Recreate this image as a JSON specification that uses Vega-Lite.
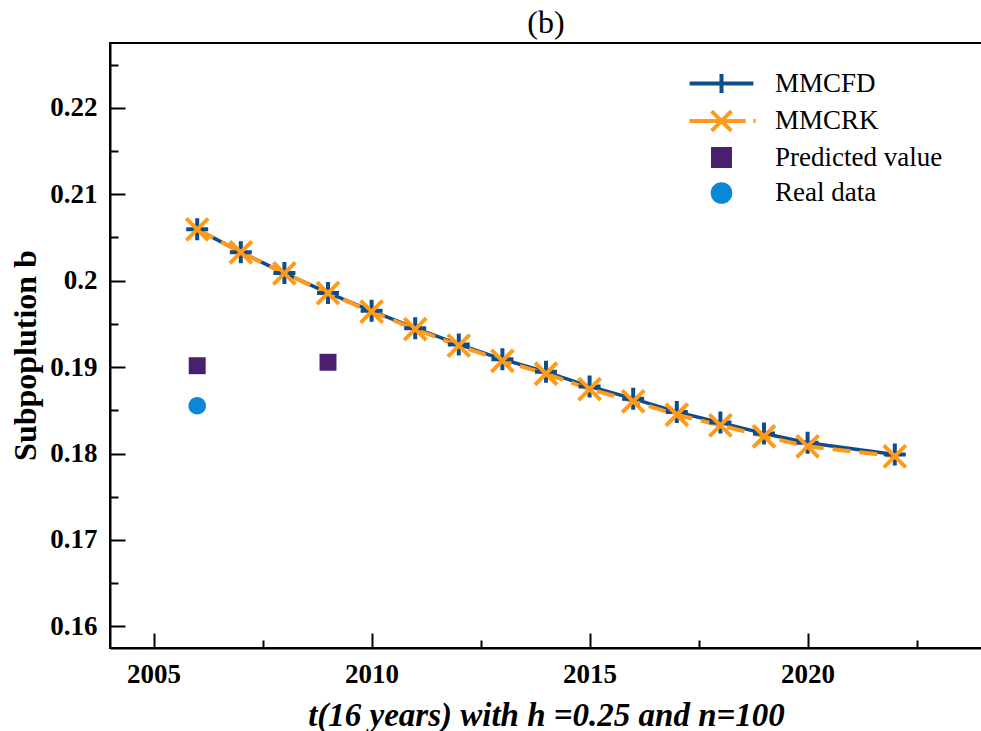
{
  "$schema": "https://vega.github.io/schema/vega-lite/v6.json",
  "width": 872,
  "height": 605,
  "autosize": {"type": "none"},
  "padding": {"left": 110, "top": 43, "right": 0, "bottom": 83},
  "background": "white",
  "config": {
    "font": "Liberation Serif",
    "view": {"stroke": "black", "strokeWidth": 2},
    "axis": {
      "grid": false,
      "domainColor": "black",
      "domainWidth": 2,
      "tickColor": "black",
      "tickWidth": 2,
      "labelFont": "Liberation Serif",
      "labelFontWeight": "bold",
      "labelFontSize": 27,
      "labelColor": "black",
      "titleFont": "Liberation Serif",
      "titleFontWeight": "bold",
      "titleColor": "black",
      "labelOverlap": false,
      "labelFlush": false
    },
    "legend": {
      "orient": "none",
      "legendX": 598,
      "legendY": 27,
      "title": null,
      "padding": 0,
      "labelFont": "Liberation Serif",
      "labelFontSize": 27,
      "labelFontWeight": "normal",
      "labelColor": "black",
      "labelLimit": 400,
      "labelOffset": 40,
      "rowPadding": 1.5,
      "symbolSize": 484
    }
  },
  "title": {
    "text": "(b)",
    "font": "Liberation Serif",
    "fontSize": 32,
    "fontWeight": "normal",
    "color": "black",
    "anchor": "middle",
    "baseline": "alphabetic",
    "offset": 6,
    "dy": 28
  },
  "datasets": {
    "series": [
      {"year": 2006, "series": "MMCFD", "value": 0.20594},
      {"year": 2007, "series": "MMCFD", "value": 0.20330},
      {"year": 2008, "series": "MMCFD", "value": 0.20088},
      {"year": 2009, "series": "MMCFD", "value": 0.19858},
      {"year": 2010, "series": "MMCFD", "value": 0.19652},
      {"year": 2011, "series": "MMCFD", "value": 0.19450},
      {"year": 2012, "series": "MMCFD", "value": 0.19262},
      {"year": 2013, "series": "MMCFD", "value": 0.19090},
      {"year": 2014, "series": "MMCFD", "value": 0.18945},
      {"year": 2015, "series": "MMCFD", "value": 0.18775},
      {"year": 2016, "series": "MMCFD", "value": 0.18635},
      {"year": 2017, "series": "MMCFD", "value": 0.18480},
      {"year": 2018, "series": "MMCFD", "value": 0.18358},
      {"year": 2019, "series": "MMCFD", "value": 0.18232},
      {"year": 2020, "series": "MMCFD", "value": 0.18125},
      {"year": 2022, "series": "MMCFD", "value": 0.17988},
      {"year": 2006, "series": "MMCRK", "value": 0.20594},
      {"year": 2007, "series": "MMCRK", "value": 0.20328},
      {"year": 2008, "series": "MMCRK", "value": 0.20085},
      {"year": 2009, "series": "MMCRK", "value": 0.19855},
      {"year": 2010, "series": "MMCRK", "value": 0.19642},
      {"year": 2011, "series": "MMCRK", "value": 0.19439},
      {"year": 2012, "series": "MMCRK", "value": 0.19249},
      {"year": 2013, "series": "MMCRK", "value": 0.19073},
      {"year": 2014, "series": "MMCRK", "value": 0.18923},
      {"year": 2015, "series": "MMCRK", "value": 0.18746},
      {"year": 2016, "series": "MMCRK", "value": 0.18603},
      {"year": 2017, "series": "MMCRK", "value": 0.18449},
      {"year": 2018, "series": "MMCRK", "value": 0.18326},
      {"year": 2019, "series": "MMCRK", "value": 0.18199},
      {"year": 2020, "series": "MMCRK", "value": 0.18083},
      {"year": 2022, "series": "MMCRK", "value": 0.17968},
      {"year": 2006, "series": "Predicted value", "value": 0.19016},
      {"year": 2009, "series": "Predicted value", "value": 0.19056},
      {"year": 2006, "series": "Real data", "value": 0.18553}
    ]
  },
  "data": {"name": "series"},
  "encoding": {
    "x": {
      "field": "year",
      "type": "quantitative",
      "scale": {"domain": [2004, 2024], "nice": false, "zero": false},
      "axis": {
        "values": [2005, 2007.5, 2010, 2012.5, 2015, 2017.5, 2020, 2022.5],
        "labelExpr": "datum.value % 5 === 0 ? '' + datum.value : ''",
        "tickSize": {"condition": {"test": "datum.value % 5 === 0", "value": -15}, "value": -8},
        "labelPadding": 28,
        "title": "t(16 years) with h =0.25 and n=100",
        "titleFontStyle": "italic",
        "titleFontSize": 33,
        "titlePadding": 5
      }
    },
    "y": {
      "field": "value",
      "type": "quantitative",
      "scale": {"domain": [0.1575, 0.2275], "nice": false, "zero": false},
      "axis": {
        "values": [0.16, 0.165, 0.17, 0.175, 0.18, 0.185, 0.19, 0.195, 0.2, 0.205, 0.21, 0.215, 0.22, 0.225],
        "labelExpr": "round(datum.value * 200) % 2 === 0 ? format(datum.value, '.2~f') : ''",
        "tickSize": {"condition": {"test": "round(datum.value * 200) % 2 === 0", "value": -15}, "value": -8},
        "labelPadding": 28,
        "title": "Subpoplution b",
        "titleFontSize": 32,
        "titlePadding": 7,
        "titleY": 312
      }
    }
  },
  "layer": [
    {
      "transform": [{"filter": "datum.series === 'MMCFD'"}],
      "mark": {"type": "line", "color": "#0f4c8a", "strokeWidth": 3.5}
    },
    {
      "transform": [{"filter": "datum.series === 'MMCRK'"}],
      "mark": {"type": "line", "color": "#ff9a1a", "strokeWidth": 4, "strokeDash": [18, 9]}
    },
    {
      "transform": [{"filter": "datum.series === 'MMCFD'"}],
      "mark": {"type": "point", "shape": "M-1,0H1M0,-1V1", "size": 484, "filled": false, "color": "#0f4c8a", "strokeWidth": 4, "opacity": 1}
    },
    {
      "transform": [{"filter": "datum.series === 'MMCRK'"}],
      "mark": {"type": "point", "shape": "M-1,-1L1,1M1,-1L-1,1", "size": 484, "filled": false, "color": "#ff9a1a", "strokeWidth": 4, "opacity": 1}
    },
    {
      "transform": [{"filter": "datum.series === 'Predicted value'"}],
      "mark": {"type": "point", "shape": "M-0.77,-0.77H0.77V0.77H-0.77Z", "size": 484, "filled": true, "color": "#4a1f6e", "opacity": 1}
    },
    {
      "transform": [{"filter": "datum.series === 'Real data'"}],
      "mark": {"type": "point", "shape": "M-0.8,0A0.8,0.8 0 1,0 0.8,0A0.8,0.8 0 1,0 -0.8,0Z", "size": 484, "filled": true, "color": "#0a87d6", "opacity": 1}
    },
    {
      "description": "Key only: no rows pass, the scales below carry the four key symbols.",
      "transform": [{"filter": "false"}],
      "mark": {"type": "point", "size": 484, "opacity": 1},
      "encoding": {
        "shape": {
          "field": "series",
          "type": "nominal",
          "scale": {
            "domain": ["MMCFD", "MMCRK", "Predicted value", "Real data"],
            "range": [
              "M-2.9,0H2.9M0,-0.86V0.86",
              "M-2.9,0H2.2M2.9,0H3.1M-0.9,-0.9L0.9,0.9M0.9,-0.9L-0.9,0.9",
              "M-0.77,-0.77H0.77V0.77H-0.77Z",
              "M-0.8,0A0.8,0.8 0 1,0 0.8,0A0.8,0.8 0 1,0 -0.8,0Z"
            ]
          },
          "legend": {}
        },
        "stroke": {
          "field": "series",
          "type": "nominal",
          "scale": {
            "domain": ["MMCFD", "MMCRK", "Predicted value", "Real data"],
            "range": ["#0f4c8a", "#ff9a1a", "#4a1f6e", "#0a87d6"]
          },
          "legend": {}
        },
        "fill": {
          "field": "series",
          "type": "nominal",
          "scale": {
            "domain": ["MMCFD", "MMCRK", "Predicted value", "Real data"],
            "range": ["transparent", "transparent", "#4a1f6e", "#0a87d6"]
          },
          "legend": {}
        },
        "strokeWidth": {
          "field": "series",
          "type": "nominal",
          "scale": {
            "domain": ["MMCFD", "MMCRK", "Predicted value", "Real data"],
            "range": [4, 4, 0, 0]
          },
          "legend": {}
        }
      }
    }
  ]
}
